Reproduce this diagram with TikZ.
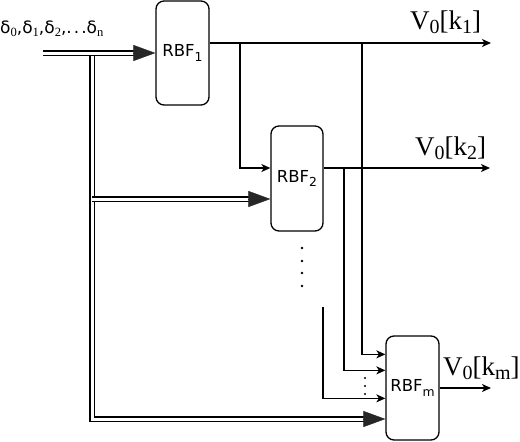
\documentclass[tikz,border=0pt]{standalone}
\usepackage{fontspec}
\setmainfont{Liberation Serif}
\newfontfamily\djv{DejaVu Sans}
\usetikzlibrary{arrows.meta,calc}
\newcommand\sbs[1]{\raisebox{-0.3em}{\scalebox{0.75}{#1}}}
\newcommand\lsb[1]{\raisebox{-0.18em}{\scalebox{0.74}{#1}}}
\begin{document}
\begin{tikzpicture}[x=1pt,y=-1pt,
  box/.style={draw, line width=1.3pt, rounded corners=8pt, minimum width=53pt,
    minimum height=104pt, inner sep=0pt, font=\djv\fontsize{16.5}{16.5}\selectfont},
  ln/.style={line width=1.3pt},
  sa/.style={ln, -{Stealth[length=9pt,width=8pt,inset=2.5pt]}},
  dbl/.style={double, line width=1.2pt, double distance=3pt},
  big/.style={line width=0.4pt, draw=black!85, -{Triangle[length=22pt,width=16pt,fill=black!85]}},
  lab/.style={font=\fontsize{27}{27}\selectfont, inner sep=0pt, anchor=base west},
  dot/.style={fill=black}]
\useasboundingbox (0,0) rectangle (520,442);
% boxes
\node[box] (rbf1) at (182.5,53) {RBF\sbs{1}};
\node[box, minimum width=52pt, minimum height=105pt] (rbf2) at (297,178.5) {RBF\sbs{2}};
\node[box] (rbfm) at (412.5,388) {RBF\sbs{m}};
% input text
\node[inner sep=0pt, anchor=base west, font=\fontsize{17}{17}\selectfont] (din) at (0,33)
  {{\djv δ}\lsb{0}{\djv ,δ}\lsb{1}{\djv ,δ}\lsb{2}{\djv ,.\kern2pt.\kern2pt.δ}\lsb{n}};
% coordinates
\coordinate (in) at (43,53);
\coordinate (j1) at (92,53);
\coordinate (j2) at (92,199);
\coordinate (j3) at (92,419);
\coordinate (o1) at (491,43);
\coordinate (o2) at (490,168);
\coordinate (om) at (491,388);
\coordinate (t1) at (240,43);
\coordinate (t2) at (362,43);
\coordinate (t3) at (344,168);
\coordinate (t4) at (323,307);
\coordinate (mi1) at ($(rbfm.north west)+(0,19)$);
\coordinate (mi2) at ($(rbfm.north west)+(0,35)$);
\coordinate (mi3) at ($(rbfm.north west)+(0,63)$);
\coordinate (mi4) at (rbfm.west |- j3);
\coordinate (r2i) at (rbf2.west |- j2);
% double input lines
\draw[dbl] (j1) -- (j3) -- ($(mi4)+(-21,0)$);
\draw[big] ($(mi4)+(-22,0)$) -- (mi4);
\draw[dbl] (in) -- ($(rbf1.west)+(-21,0)$);
\draw[big] ($(rbf1.west)+(-22,0)$) -- (rbf1.west);
\draw[dbl] (j2) -- ($(r2i)+(-21,0)$);
\draw[big] ($(r2i)+(-22,0)$) -- (r2i);
% outputs and feedback lines
\draw[sa] (rbf1.east |- o1) -- (o1);
\draw[sa] (t1) |- (rbf2.west |- o2);
\draw[sa] (rbf2.east |- o2) -- (o2);
\draw[sa] (t2) |- (mi1);
\draw[sa] (t3) |- (mi2);
\draw[sa] (t4) |- (mi3);
\draw[sa] (rbfm.east) -- (om);
% labels
\node[lab] (l1) at (410,29) {V\lsb{0}[k\lsb{1}]};
\node[lab] (l2) at (415,155) {V\lsb{0}[k\lsb{2}]};
\node[lab] (lm) at (443,375) {V\lsb{0}[k\lsb{m}]};
% dots
\foreach \yy in {248,261,273,286} \fill[dot] (302,\yy) circle (1.4pt);
\foreach \yy in {378,386,394} \fill[dot] (365,\yy) circle (1.2pt);
\end{tikzpicture}
\end{document}
